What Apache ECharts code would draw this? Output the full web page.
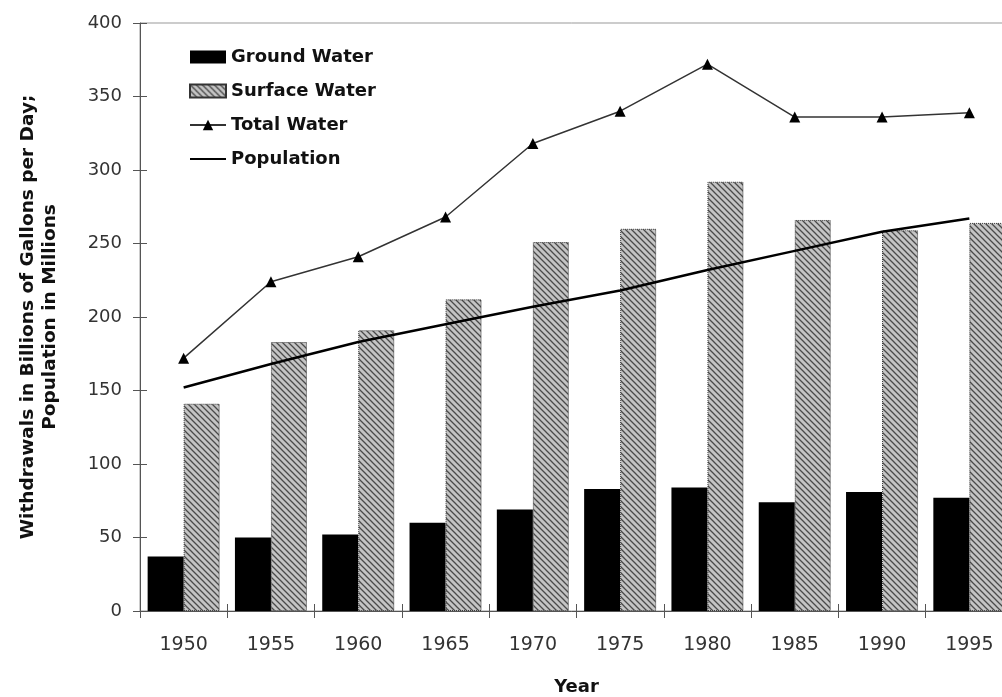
<!DOCTYPE html>
<html><head><meta charset="utf-8">
<script src="https://cdn.jsdelivr.net/npm/echarts@6/dist/echarts.min.js"></script>
<style>html,body{margin:0;padding:0;background:#fff}#c{width:1002px;height:697px}</style>
</head><body><div id="c"></div>
<script>
const years = ['1950', '1955', '1960', '1965', '1970', '1975', '1980', '1985', '1990', '1995'];
const groundWater = [37, 50, 52, 60, 69, 83, 84, 74, 81, 77];
const surfaceWater = [141, 183, 191, 212, 251, 260, 292, 266, 259, 264];
const totalWater = [172, 224, 241, 268, 318, 340, 372, 336, 336, 339];
const population = [152, 168, 183, 195, 207, 218, 232, 245, 258, 267];
const yMin = 0, yMax = 400, yStep = 50;

// hatch pattern for surface water
const pat = document.createElement('canvas');
pat.width = 6; pat.height = 6;
const g = pat.getContext('2d');
g.fillStyle = '#c4c4c4'; g.fillRect(0, 0, 6, 6);
g.strokeStyle = '#4a4a4a'; g.lineWidth = 1.3;
g.beginPath();
g.moveTo(-1, -1); g.lineTo(7, 7);
g.moveTo(-4, 2); g.lineTo(4, 10);
g.moveTo(2, -4); g.lineTo(10, 4);
g.stroke();
const hatch = { image: pat, repeat: 'repeat' };

const FONT = 'DejaVu Sans';
const chart = echarts.init(document.getElementById('c'), null, { renderer: 'canvas' });
chart.setOption({
  animation: false,
  backgroundColor: '#fff',
  grid: { left: 140, top: 23, width: 873, height: 588, outerBoundsMode: 'none', containLabel: false,
          show: true, borderColor: '#999', borderWidth: 1, backgroundColor: 'transparent' },
  legend: {
    orient: 'vertical', left: 184, top: 42,
    itemWidth: 36, itemHeight: 13, itemGap: 14,
    textStyle: { fontFamily: FONT, fontWeight: 'bold', fontSize: 18, color: '#111', lineHeight: 20 },
    data: [
      { name: 'Ground Water', icon: 'rect' },
      { name: 'Surface Water', icon: 'rect' },
      'Total Water',
      'Population'
    ]
  },
  xAxis: [{
    type: 'category', data: years, position: 'bottom',
    axisLine: { onZero: false, lineStyle: { color: '#555', width: 1 } },
    axisTick: { show: true, length: 7, lineStyle: { color: '#555' } },
    axisLabel: { fontFamily: FONT, fontSize: 19, color: '#333', margin: 25 },
    name: 'Year', nameLocation: 'middle', nameGap: 67,
    nameTextStyle: { fontFamily: FONT, fontWeight: 'bold', fontSize: 18, color: '#111' }
  }, {
    type: 'category', data: years, position: 'bottom',
    axisLine: { show: false, onZero: false },
    axisTick: { show: true, inside: true, length: 7, lineStyle: { color: '#555' } },
    axisLabel: { show: false }
  }],
  yAxis: [{
    type: 'value', min: yMin, max: yMax, interval: yStep, position: 'left',
    axisLine: { show: true, lineStyle: { color: '#555', width: 1 } },
    axisTick: { show: true, length: 7, lineStyle: { color: '#555' } },
    splitLine: { show: false },
    axisLabel: { fontFamily: FONT, fontSize: 18, color: '#333', margin: 18 },
    name: 'Withdrawals in Billions of Gallons per Day;\nPopulation in Millions',
    nameLocation: 'middle', nameGap: 79,
    nameTextStyle: { fontFamily: FONT, fontWeight: 'bold', fontSize: 18.5, color: '#111', lineHeight: 22, align: 'center' }
  }, {
    type: 'value', min: yMin, max: yMax, interval: yStep, position: 'left',
    axisLine: { show: false },
    axisTick: { show: true, inside: true, length: 7, lineStyle: { color: '#555' } },
    splitLine: { show: false },
    axisLabel: { show: false }
  }],
  series: [{
    name: 'Ground Water', type: 'bar', data: groundWater,
    barGap: '0%', barCategoryGap: '17.5%',
    itemStyle: { color: '#000' }
  }, {
    name: 'Surface Water', type: 'bar', data: surfaceWater,
    barGap: '0%', barCategoryGap: '17.5%',
    itemStyle: { color: hatch, borderColor: '#333', borderWidth: 1, borderType: 'dotted' }
  }, {
    name: 'Total Water', type: 'line', data: totalWater,
    symbol: 'triangle', symbolSize: 11,
    itemStyle: { color: '#000' },
    lineStyle: { color: '#333', width: 1.5 }
  }, {
    name: 'Population', type: 'line', data: population,
    symbol: 'none',
    itemStyle: { color: 'rgba(0,0,0,0)' },
    lineStyle: { color: '#000', width: 2.5 }
  }]
});
</script></body></html>
